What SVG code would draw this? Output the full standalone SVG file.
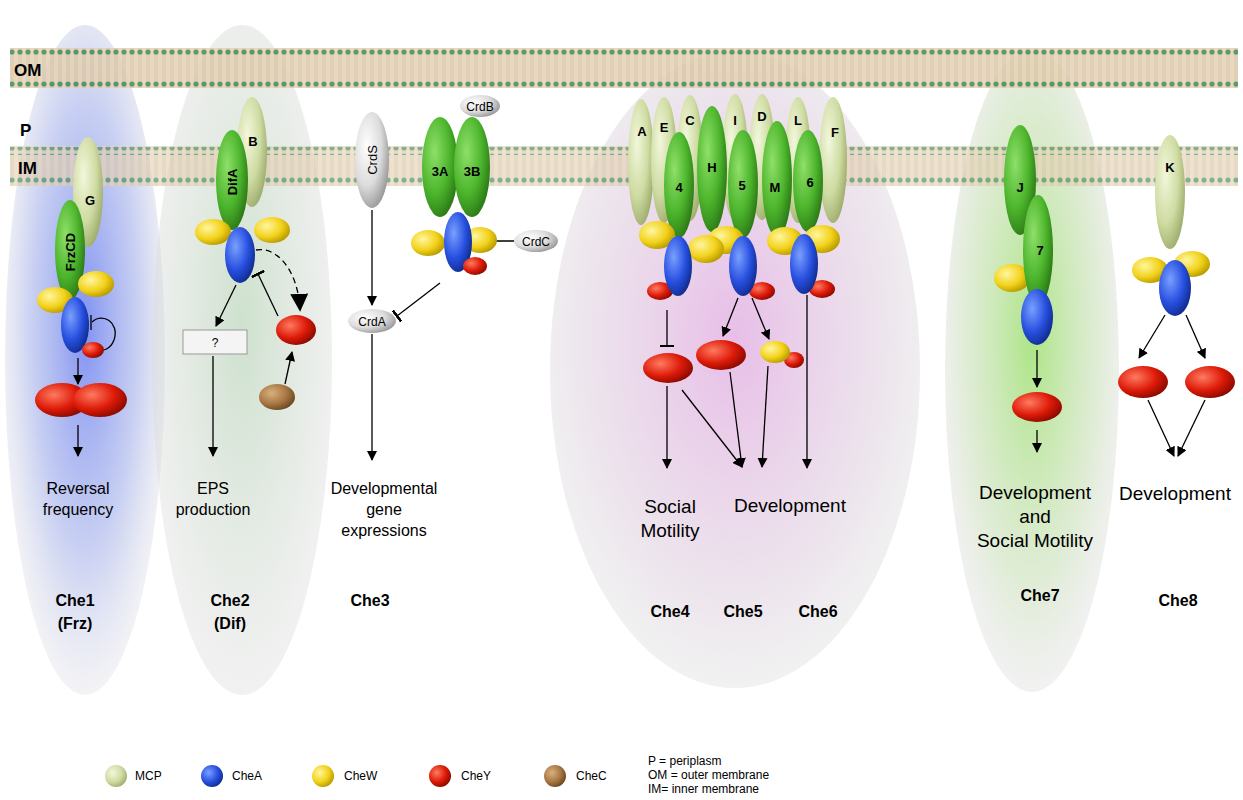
<svg xmlns="http://www.w3.org/2000/svg" width="1243" height="800" viewBox="0 0 1243 800">
<defs>
<radialGradient id="lg" cx="0.35" cy="0.35" r="0.7"><stop offset="0" stop-color="#f2f7dc"/><stop offset="0.6" stop-color="#cfdca3"/><stop offset="1" stop-color="#9fae6e"/></radialGradient>
<radialGradient id="g" cx="0.35" cy="0.35" r="0.7"><stop offset="0" stop-color="#8fe06a"/><stop offset="0.6" stop-color="#4cb52c"/><stop offset="1" stop-color="#2c7a16"/></radialGradient>
<radialGradient id="y" cx="0.35" cy="0.35" r="0.7"><stop offset="0" stop-color="#fff6a0"/><stop offset="0.6" stop-color="#f2d21a"/><stop offset="1" stop-color="#b89a00"/></radialGradient>
<radialGradient id="b" cx="0.35" cy="0.35" r="0.7"><stop offset="0" stop-color="#7aa0ff"/><stop offset="0.6" stop-color="#2850e0"/><stop offset="1" stop-color="#102c90"/></radialGradient>
<radialGradient id="r" cx="0.35" cy="0.35" r="0.7"><stop offset="0" stop-color="#ff7a60"/><stop offset="0.6" stop-color="#dd1a08"/><stop offset="1" stop-color="#8a0a00"/></radialGradient>
<radialGradient id="br" cx="0.35" cy="0.35" r="0.7"><stop offset="0" stop-color="#d9b080"/><stop offset="0.6" stop-color="#a77742"/><stop offset="1" stop-color="#6b4820"/></radialGradient>
<radialGradient id="w" cx="0.35" cy="0.35" r="0.7"><stop offset="0" stop-color="#ffffff"/><stop offset="0.6" stop-color="#dcdcdc"/><stop offset="1" stop-color="#9a9a9a"/></radialGradient>
<radialGradient id="glowBlue" cx="0.5" cy="0.45" r="0.55"><stop offset="0" stop-color="#6a7ef0" stop-opacity="0.85"/><stop offset="0.6" stop-color="#9aa8e8" stop-opacity="0.55"/><stop offset="1" stop-color="#d8d8e0" stop-opacity="0.3"/></radialGradient>
<radialGradient id="glowGrey" cx="0.5" cy="0.45" r="0.55"><stop offset="0" stop-color="#b8d4b8" stop-opacity="0.7"/><stop offset="1" stop-color="#dcdcdc" stop-opacity="0.4"/></radialGradient>
<radialGradient id="glowPink" cx="0.5" cy="0.45" r="0.55"><stop offset="0" stop-color="#e0a8e0" stop-opacity="0.75"/><stop offset="0.7" stop-color="#e0d0e0" stop-opacity="0.6"/><stop offset="1" stop-color="#dddddd" stop-opacity="0.4"/></radialGradient>
<radialGradient id="glowGreen" cx="0.5" cy="0.45" r="0.55"><stop offset="0" stop-color="#9ee070" stop-opacity="0.85"/><stop offset="0.7" stop-color="#cce0bc" stop-opacity="0.6"/><stop offset="1" stop-color="#dddddd" stop-opacity="0.4"/></radialGradient>
<pattern id="lip" width="8" height="40" patternUnits="userSpaceOnUse">
<line x1="3" y1="0" x2="3" y2="40" stroke="#c9b79a" stroke-width="0.8"/>
<line x1="5" y1="0" x2="5" y2="40" stroke="#c9b79a" stroke-width="0.8"/>
</pattern>
<pattern id="dots" width="8" height="8" patternUnits="userSpaceOnUse">
<circle cx="4" cy="4" r="2.6" fill="#3f8a55"/>
</pattern>
<marker id="ar" viewBox="0 0 10 10" refX="9" refY="5" markerWidth="10" markerHeight="10" markerUnits="userSpaceOnUse" orient="auto"><path d="M0,0 L10,5 L0,10 z" fill="#000"/></marker>
<marker id="big" viewBox="0 0 10 10" refX="9" refY="5" markerWidth="18" markerHeight="18" markerUnits="userSpaceOnUse" orient="auto"><path d="M0,0 L10,5 L0,10 z" fill="#000"/></marker>
<marker id="bar" viewBox="0 0 2 10" refX="1" refY="5" markerWidth="2.8" markerHeight="14" markerUnits="userSpaceOnUse" orient="auto" preserveAspectRatio="none"><rect x="0" y="0" width="2" height="10" fill="#000"/></marker>
</defs>
<style>
.t{font-family:"Liberation Sans",Arial,sans-serif;fill:#000}
.lab{font-size:16px;text-anchor:middle}
.lab2{font-size:19px;text-anchor:middle}
.che{font-size:16px;font-weight:bold;text-anchor:middle}
.pl{font-size:13px;font-weight:bold;text-anchor:middle}
.ml{font-size:17px;font-weight:bold}
.lg{font-size:12px}
.c{stroke:#000;stroke-width:1.3;fill:none}
</style>
<rect width="1243" height="800" fill="#fff"/>
<g id="glows">
<ellipse cx="85" cy="360" rx="80" ry="335" fill="url(#glowBlue)"/>
<ellipse cx="242" cy="360" rx="90" ry="335" fill="url(#glowGrey)"/>
<ellipse cx="735" cy="370" rx="185" ry="318" fill="url(#glowPink)"/>
<ellipse cx="1032" cy="370" rx="87" ry="322" fill="url(#glowGreen)"/>
</g>
<g id="membranes" opacity="0.85">
<rect x="10" y="48" width="1228" height="40" fill="#e6d2b4"/>
<rect x="10" y="48" width="1228" height="40" fill="url(#lip)"/>
<rect x="10" y="49" width="1228" height="8" fill="url(#dots)"/>
<rect x="10" y="79" width="1228" height="8" fill="url(#dots)"/>
</g>
<g id="membranes2" opacity="0.65">
<rect x="10" y="146" width="1228" height="40" fill="#e6d2b4"/>
<rect x="10" y="146" width="1228" height="40" fill="url(#lip)"/>
<rect x="10" y="147" width="1228" height="8" fill="url(#dots)"/>
<rect x="10" y="177" width="1228" height="8" fill="url(#dots)"/>
</g>
<g id="mlabels">
<text class="t ml" x="14" y="76">OM</text>
<text class="t ml" x="20" y="136">P</text>
<text class="t ml" x="18" y="174">IM</text>
</g>
<g id="connectors">
<path class="c" d="M92,322 C102,312 120,322 114,340 C110,350 102,352 98,348"/>
<line class="c" x1="91" y1="315" x2="91" y2="330"/>
<line class="c" x1="78" y1="358" x2="78" y2="384" marker-end="url(#ar)"/>
<line class="c" x1="78" y1="425" x2="78" y2="456" marker-end="url(#ar)"/>
<line class="c" x1="236" y1="285" x2="216" y2="326" marker-end="url(#ar)"/>
<line class="c" x1="213" y1="356" x2="213" y2="456" marker-end="url(#ar)"/>
<line class="c" x1="278" y1="316" x2="258" y2="274" marker-end="url(#bar)"/>
<path class="c" d="M256,250 C275,246 298,268 300,310" stroke-dasharray="6,4" marker-end="url(#big)"/>
<line class="c" x1="285" y1="384" x2="292" y2="352" marker-end="url(#ar)"/>
<line class="c" x1="372" y1="210" x2="372" y2="305" marker-end="url(#ar)"/>
<line class="c" x1="372" y1="334" x2="372" y2="460" marker-end="url(#ar)"/>
<line class="c" x1="514" y1="241" x2="474" y2="241" marker-end="url(#bar)"/>
<line class="c" x1="440" y1="283" x2="397" y2="316" marker-end="url(#bar)"/>
<line class="c" x1="667" y1="310" x2="667" y2="346" marker-end="url(#bar)"/>
<line class="c" x1="738" y1="298" x2="723" y2="336" marker-end="url(#ar)"/>
<line class="c" x1="752" y1="298" x2="769" y2="339" marker-end="url(#ar)"/>
<line class="c" x1="807" y1="295" x2="807" y2="468" marker-end="url(#ar)"/>
<line class="c" x1="667" y1="386" x2="667" y2="468" marker-end="url(#ar)"/>
<line class="c" x1="682" y1="390" x2="742" y2="467" marker-end="url(#ar)"/>
<line class="c" x1="730" y1="372" x2="742" y2="467" marker-end="url(#ar)"/>
<line class="c" x1="768" y1="366" x2="762" y2="467" marker-end="url(#ar)"/>
<line class="c" x1="1037" y1="350" x2="1037" y2="387" marker-end="url(#ar)"/>
<line class="c" x1="1037" y1="430" x2="1037" y2="452" marker-end="url(#ar)"/>
<line class="c" x1="1165" y1="315" x2="1139" y2="358" marker-end="url(#ar)"/>
<line class="c" x1="1186" y1="315" x2="1205" y2="358" marker-end="url(#ar)"/>
<line class="c" x1="1148" y1="400" x2="1174" y2="456" marker-end="url(#ar)"/>
<line class="c" x1="1205" y1="400" x2="1178" y2="456" marker-end="url(#ar)"/>
</g>
<g id="che1">
<ellipse cx="88" cy="192" rx="15" ry="55" fill="url(#lg)"/>
<text class="t pl" x="90" y="205">G</text>
<ellipse cx="70" cy="250" rx="15" ry="50" fill="url(#g)"/>
<text class="t pl" transform="translate(75,252) rotate(-90)">FrzCD</text>
<ellipse cx="55" cy="300" rx="18" ry="13" fill="url(#y)"/>
<ellipse cx="96" cy="284" rx="18" ry="13" fill="url(#y)"/>
<ellipse cx="75" cy="325" rx="14" ry="28" fill="url(#b)"/>
<ellipse cx="93" cy="350" rx="11" ry="8" fill="url(#r)"/>
<ellipse cx="62" cy="400" rx="27" ry="17" fill="url(#r)"/>
<ellipse cx="100" cy="400" rx="27" ry="17" fill="url(#r)"/>
<text class="t lab" x="78" y="494">Reversal</text>
<text class="t lab" x="78" y="515">frequency</text>
<text class="t che" x="75" y="606">Che1</text>
<text class="t che" x="75" y="629">(Frz)</text>
</g>
<g id="che2">
<ellipse cx="252" cy="152" rx="15" ry="55" fill="url(#lg)"/>
<text class="t pl" x="253" y="146">B</text>
<ellipse cx="232" cy="180" rx="16" ry="50" fill="url(#g)"/>
<text class="t pl" transform="translate(237,182) rotate(-90)">DifA</text>
<ellipse cx="213" cy="232" rx="18" ry="13" fill="url(#y)"/>
<ellipse cx="272" cy="230" rx="18" ry="13" fill="url(#y)"/>
<ellipse cx="240" cy="255" rx="15" ry="28" fill="url(#b)"/>
<rect x="183" y="330" width="64" height="24" fill="#f4f4f4" stroke="#999"/>
<text class="t" x="215" y="347" font-size="12" text-anchor="middle">?</text>
<ellipse cx="296" cy="330" rx="20" ry="15" fill="url(#r)"/>
<ellipse cx="277" cy="397" rx="18" ry="13" fill="url(#br)"/>
<text class="t lab" x="213" y="494">EPS</text>
<text class="t lab" x="213" y="515">production</text>
<text class="t che" x="230" y="606">Che2</text>
<text class="t che" x="230" y="629">(Dif)</text>
</g>
<g id="che3">
<ellipse cx="372" cy="160" rx="17" ry="48" fill="url(#w)"/>
<text class="t" font-size="13" text-anchor="middle" transform="translate(377,160) rotate(-90)">CrdS</text>
<ellipse cx="372" cy="321" rx="24" ry="12" fill="url(#w)"/>
<text class="t" x="372" y="326" font-size="12" text-anchor="middle">CrdA</text>
<ellipse cx="440" cy="167" rx="18" ry="50" fill="url(#g)"/>
<text class="t pl" x="440" y="176">3A</text>
<ellipse cx="472" cy="167" rx="18" ry="50" fill="url(#g)"/>
<text class="t pl" x="472" y="176">3B</text>
<ellipse cx="480" cy="106" rx="20" ry="11" fill="url(#w)"/>
<text class="t" x="480" y="111" font-size="12" text-anchor="middle">CrdB</text>
<ellipse cx="428" cy="243" rx="17" ry="13" fill="url(#y)"/>
<ellipse cx="480" cy="240" rx="17" ry="13" fill="url(#y)"/>
<ellipse cx="458" cy="242" rx="14" ry="30" fill="url(#b)"/>
<ellipse cx="475" cy="266" rx="12" ry="9" fill="url(#r)"/>
<ellipse cx="536" cy="241" rx="22" ry="11" fill="url(#w)"/>
<text class="t" x="536" y="246" font-size="12" text-anchor="middle">CrdC</text>
<text class="t lab" x="384" y="494">Developmental</text>
<text class="t lab" x="384" y="515">gene</text>
<text class="t lab" x="384" y="536">expressions</text>
<text class="t che" x="370" y="606">Che3</text>
</g>
<g id="che456">
<ellipse cx="641" cy="162" rx="13" ry="63" fill="url(#lg)"/>
<ellipse cx="664" cy="160" rx="13" ry="63" fill="url(#lg)"/>
<ellipse cx="690" cy="158" rx="13" ry="63" fill="url(#lg)"/>
<ellipse cx="735" cy="157" rx="13" ry="63" fill="url(#lg)"/>
<ellipse cx="762" cy="157" rx="13" ry="63" fill="url(#lg)"/>
<ellipse cx="798" cy="160" rx="13" ry="63" fill="url(#lg)"/>
<ellipse cx="833" cy="160" rx="14" ry="63" fill="url(#lg)"/>
<text class="t pl" x="642" y="136">A</text>
<text class="t pl" x="664" y="132">E</text>
<text class="t pl" x="690" y="125">C</text>
<text class="t pl" x="735" y="125">I</text>
<text class="t pl" x="762" y="121">D</text>
<text class="t pl" x="798" y="125">L</text>
<text class="t pl" x="835" y="137">F</text>
<ellipse cx="679" cy="185" rx="15" ry="53" fill="url(#g)"/>
<ellipse cx="712" cy="169" rx="15" ry="63" fill="url(#g)"/>
<ellipse cx="743" cy="184" rx="15" ry="54" fill="url(#g)"/>
<ellipse cx="777" cy="179" rx="15" ry="58" fill="url(#g)"/>
<ellipse cx="808" cy="181" rx="15" ry="51" fill="url(#g)"/>
<text class="t pl" x="679" y="192">4</text>
<text class="t pl" x="712" y="172">H</text>
<text class="t pl" x="742" y="190">5</text>
<text class="t pl" x="775" y="192">M</text>
<text class="t pl" x="810" y="187">6</text>
<ellipse cx="657" cy="235" rx="18" ry="14" fill="url(#y)"/>
<ellipse cx="726" cy="240" rx="18" ry="14" fill="url(#y)"/>
<ellipse cx="706" cy="249" rx="18" ry="14" fill="url(#y)"/>
<ellipse cx="785" cy="241" rx="18" ry="14" fill="url(#y)"/>
<ellipse cx="822" cy="239" rx="18" ry="14" fill="url(#y)"/>
<ellipse cx="660" cy="291" rx="13" ry="9" fill="url(#r)"/>
<ellipse cx="762" cy="291" rx="13" ry="9" fill="url(#r)"/>
<ellipse cx="822" cy="289" rx="13" ry="9" fill="url(#r)"/>
<ellipse cx="678" cy="266" rx="14" ry="30" fill="url(#b)"/>
<ellipse cx="743" cy="266" rx="14" ry="30" fill="url(#b)"/>
<ellipse cx="804" cy="264" rx="14" ry="30" fill="url(#b)"/>
<ellipse cx="668" cy="368" rx="25" ry="15" fill="url(#r)"/>
<ellipse cx="721" cy="355" rx="25" ry="15" fill="url(#r)"/>
<ellipse cx="794" cy="360" rx="10" ry="8" fill="url(#r)"/>
<ellipse cx="775" cy="352" rx="15" ry="11" fill="url(#y)"/>
<text class="t lab2" x="670" y="513">Social</text>
<text class="t lab2" x="670" y="537">Motility</text>
<text class="t lab2" x="790" y="512">Development</text>
<text class="t che" x="670" y="617">Che4</text>
<text class="t che" x="743" y="617">Che5</text>
<text class="t che" x="818" y="617">Che6</text>
</g>
<g id="che7">
<ellipse cx="1020" cy="180" rx="16" ry="55" fill="url(#g)"/>
<text class="t pl" x="1020" y="192">J</text>
<ellipse cx="1012" cy="278" rx="18" ry="14" fill="url(#y)"/>
<ellipse cx="1038" cy="250" rx="15" ry="55" fill="url(#g)"/>
<text class="t pl" x="1040" y="255">7</text>
<ellipse cx="1037" cy="317" rx="16" ry="28" fill="url(#b)"/>
<ellipse cx="1037" cy="407" rx="25" ry="15" fill="url(#r)"/>
<text class="t lab2" x="1035" y="499">Development</text>
<text class="t lab2" x="1035" y="523">and</text>
<text class="t lab2" x="1035" y="547">Social Motility</text>
<text class="t che" x="1040" y="601">Che7</text>
</g>
<g id="che8">
<ellipse cx="1170" cy="192" rx="15" ry="57" fill="url(#lg)"/>
<text class="t pl" x="1170" y="172">K</text>
<ellipse cx="1150" cy="270" rx="18" ry="13" fill="url(#y)"/>
<ellipse cx="1192" cy="264" rx="18" ry="13" fill="url(#y)"/>
<ellipse cx="1175" cy="288" rx="16" ry="28" fill="url(#b)"/>
<ellipse cx="1143" cy="382" rx="25" ry="16" fill="url(#r)"/>
<ellipse cx="1210" cy="382" rx="25" ry="16" fill="url(#r)"/>
<text class="t lab2" x="1175" y="500">Development</text>
<text class="t che" x="1178" y="606">Che8</text>
</g>
<g id="legend">
<circle cx="116" cy="776" r="11" fill="url(#lg)"/>
<text class="t lg" x="135" y="780">MCP</text>
<circle cx="212" cy="776" r="11" fill="url(#b)"/>
<text class="t lg" x="232" y="780">CheA</text>
<circle cx="323" cy="776" r="11" fill="url(#y)"/>
<text class="t lg" x="344" y="780">CheW</text>
<circle cx="440" cy="776" r="11" fill="url(#r)"/>
<text class="t lg" x="461" y="780">CheY</text>
<circle cx="555" cy="776" r="11" fill="url(#br)"/>
<text class="t lg" x="576" y="780">CheC</text>
<text class="t lg" x="648" y="765">P = periplasm</text>
<text class="t lg" x="648" y="779">OM = outer membrane</text>
<text class="t lg" x="648" y="793">IM= inner membrane</text>
</g>
</svg>
